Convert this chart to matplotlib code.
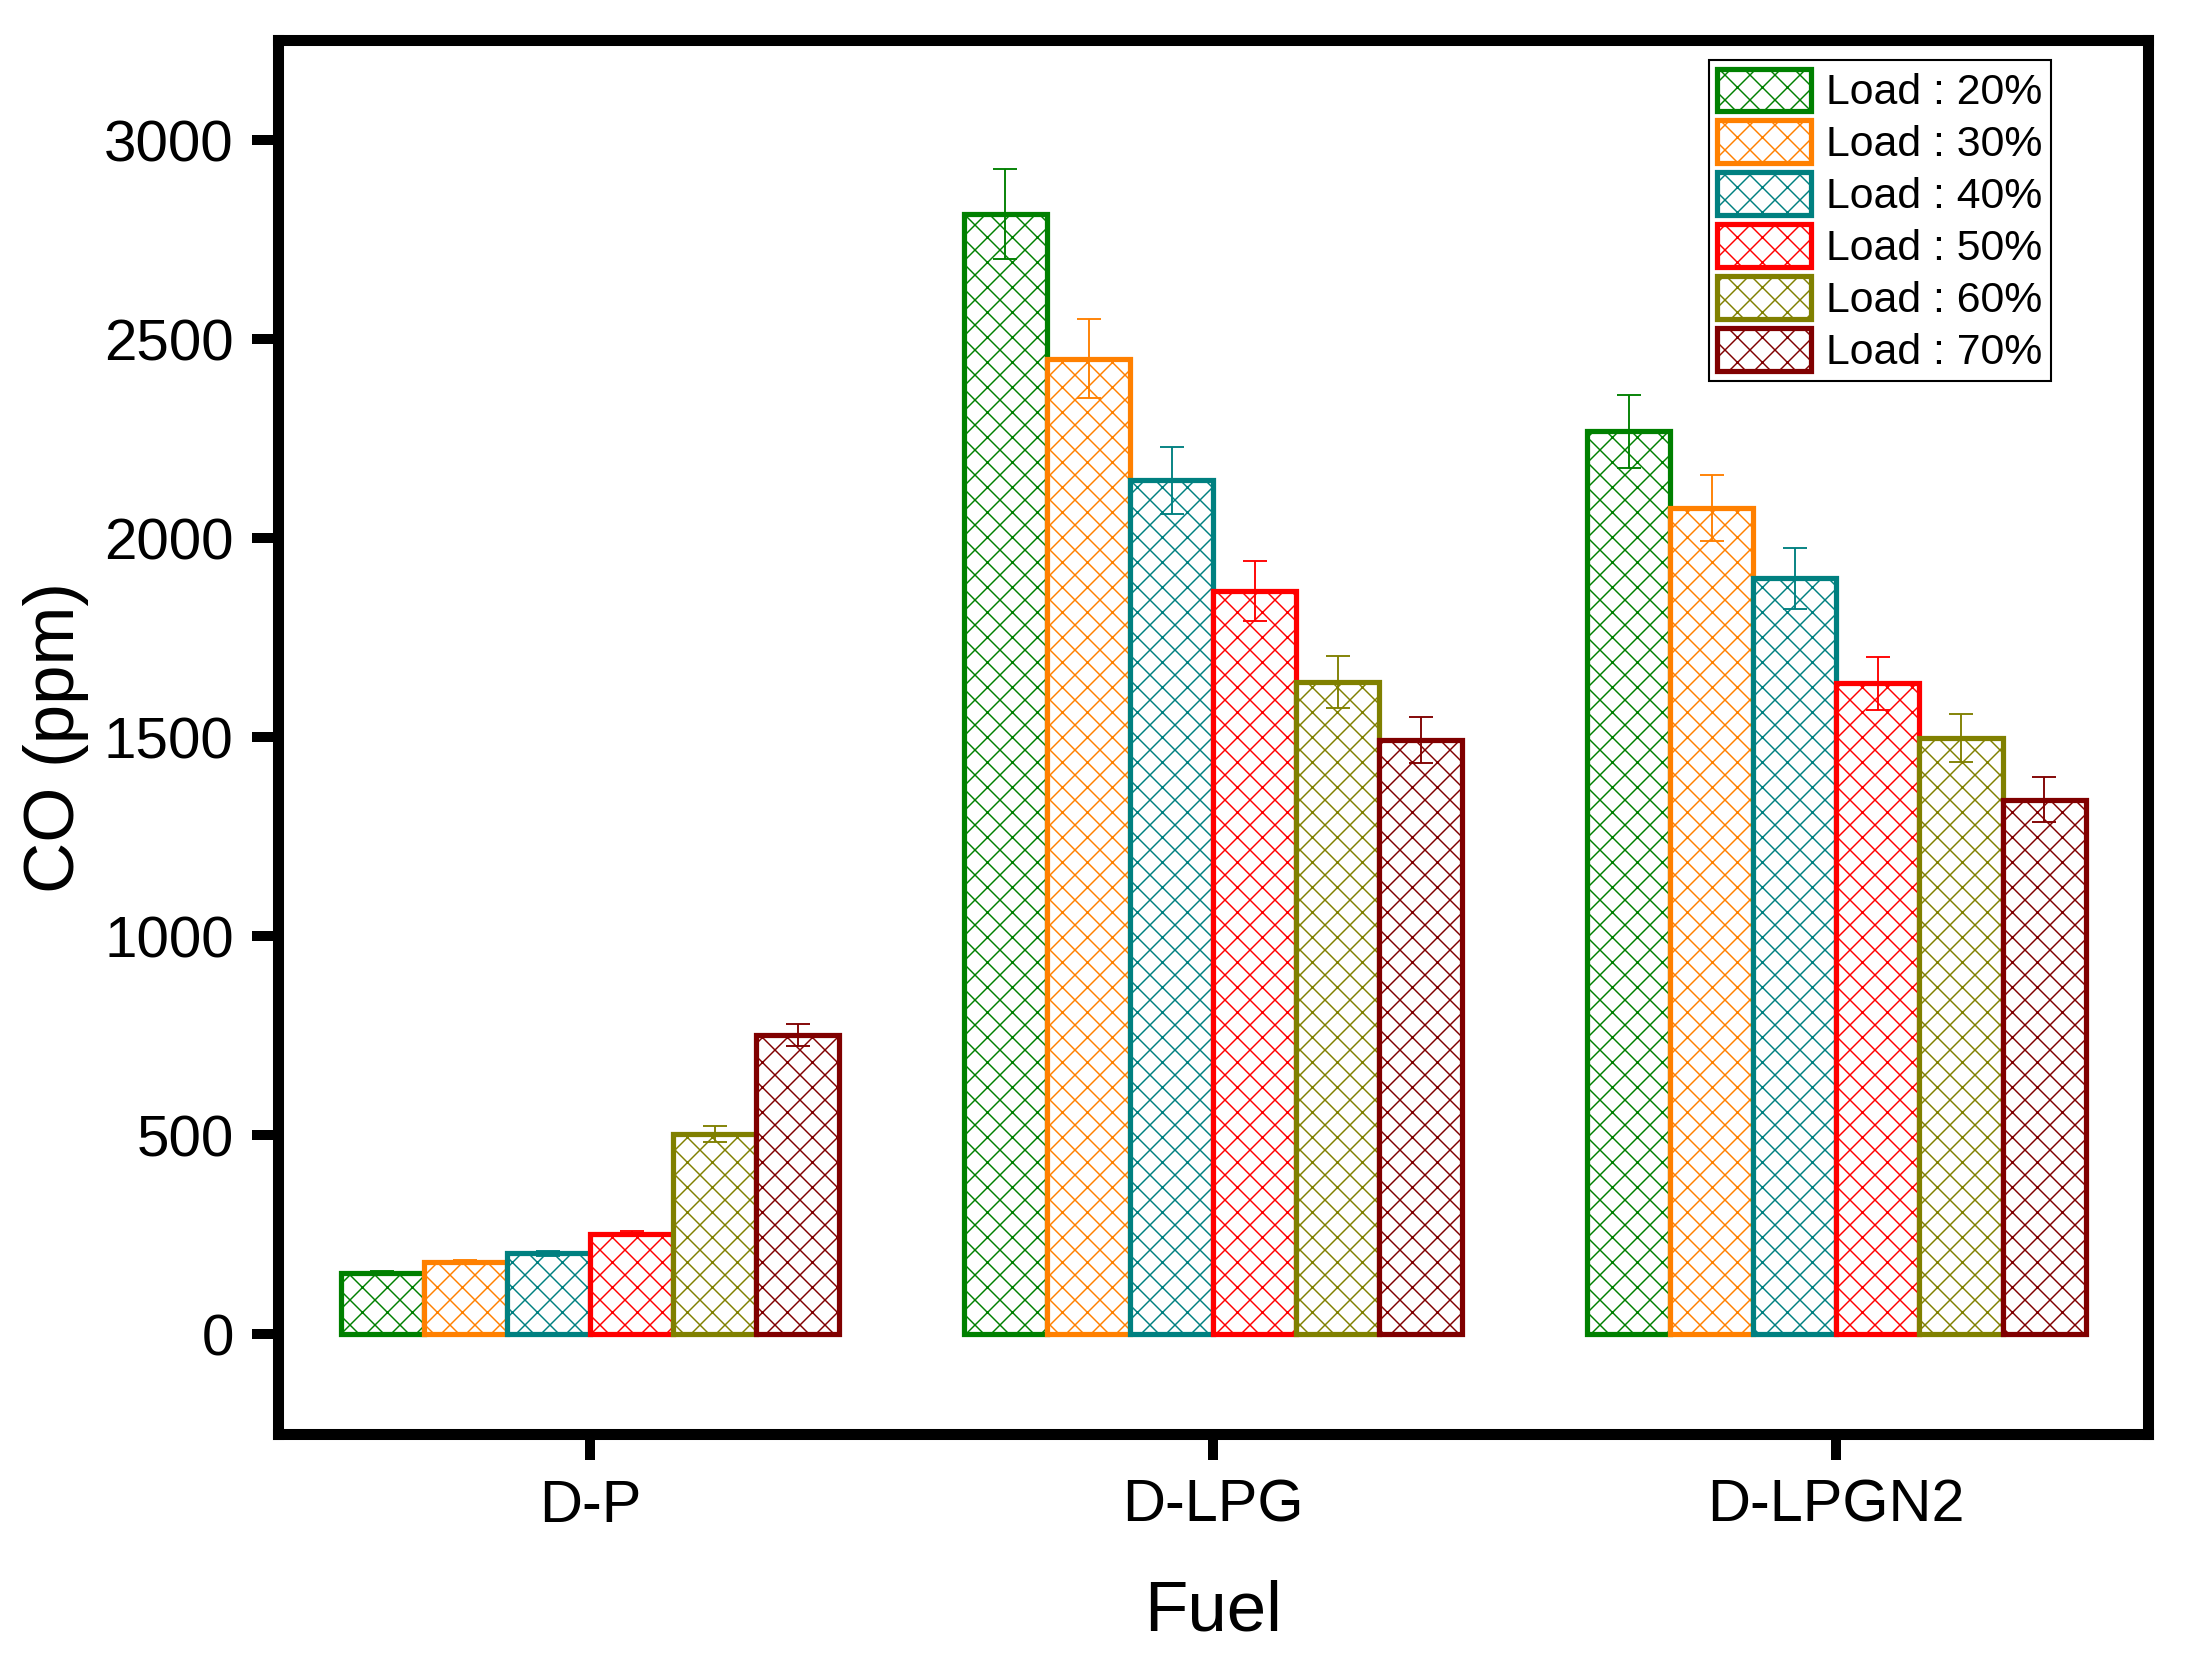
import numpy as np
import matplotlib.pyplot as plt

plt.rcParams['font.family'] = ['Liberation Sans', 'DejaVu Sans']   # Arial look-alike
plt.rcParams['hatch.linewidth'] = 0.7

# data
fuels = ['D-P', 'D-LPG', 'D-LPGN2']
loads = ['Load : 20%', 'Load : 30%', 'Load : 40%', 'Load : 50%', 'Load : 60%', 'Load : 70%']

co_20 = [155, 2813, 2268]
co_30 = [183, 2451, 2075]
co_40 = [204, 2145, 1899]
co_50 = [253, 1867, 1635]
co_60 = [503, 1639, 1498]
co_70 = [752, 1494, 1343]

err_20 = [5, 113, 91]
err_30 = [5, 100, 83]
err_40 = [6, 85, 77]
err_50 = [6, 75, 67]
err_60 = [20, 65, 61]
err_70 = [28, 58, 56]

yticks = [0, 500, 1000, 1500, 2000, 2500, 3000]

co = [co_20, co_30, co_40, co_50, co_60, co_70]
err = [err_20, err_30, err_40, err_50, err_60, err_70]
colors = ['#008000', '#FF8000', '#008080', '#FF0000', '#808000', '#800000']

fig = plt.figure(figsize=(2194/150, 1666/150), dpi=150)
ax = fig.add_axes([0.1269, 0.1393, 0.979 - 0.1269, 0.9757 - 0.1393])

x = np.arange(1, len(fuels) + 1)
w = 0.8 / len(loads)

for i in range(len(loads)):
    xpos = x + (i - 2.5) * w
    ax.bar(xpos, co[i], w,
           color='white',
           edgecolor=colors[i],
           hatch='xx',
           linewidth=2.5,
           label=loads[i])
    ax.errorbar(xpos, co[i], yerr=err[i],
                fmt='none',
                ecolor=colors[i],
                elinewidth=0.9,
                capsize=5.8,
                capthick=0.9)

ax.set_xlim(0.5, 3.5)
ax.set_ylim(-250, 3250)
ax.set_xticks(x)
ax.set_xticklabels(fuels)
ax.set_yticks(yticks)

for s in ax.spines.values():
    s.set_linewidth(5.3)
ax.tick_params(axis='y', length=12.5, width=4.8, labelsize=28, pad=9)
ax.tick_params(axis='x', length=12.5, width=4.8, labelsize=28.5, pad=9)

ax.set_xlabel('Fuel', fontsize=34, labelpad=22)
ax.set_ylabel('CO (ppm)', fontsize=34, labelpad=7)

leg = ax.legend(loc='upper right',
                bbox_to_anchor=(0.948, 0.986),
                borderaxespad=0,
                fontsize=20.5,
                handlelength=2.2,
                handleheight=1.15,
                handletextpad=0.34,
                labelspacing=0.17,
                borderpad=0.2,
                fancybox=False,
                edgecolor='black',
                framealpha=1)
leg.get_frame().set_linewidth(1.0)

fig.savefig('out.png', dpi=150)
